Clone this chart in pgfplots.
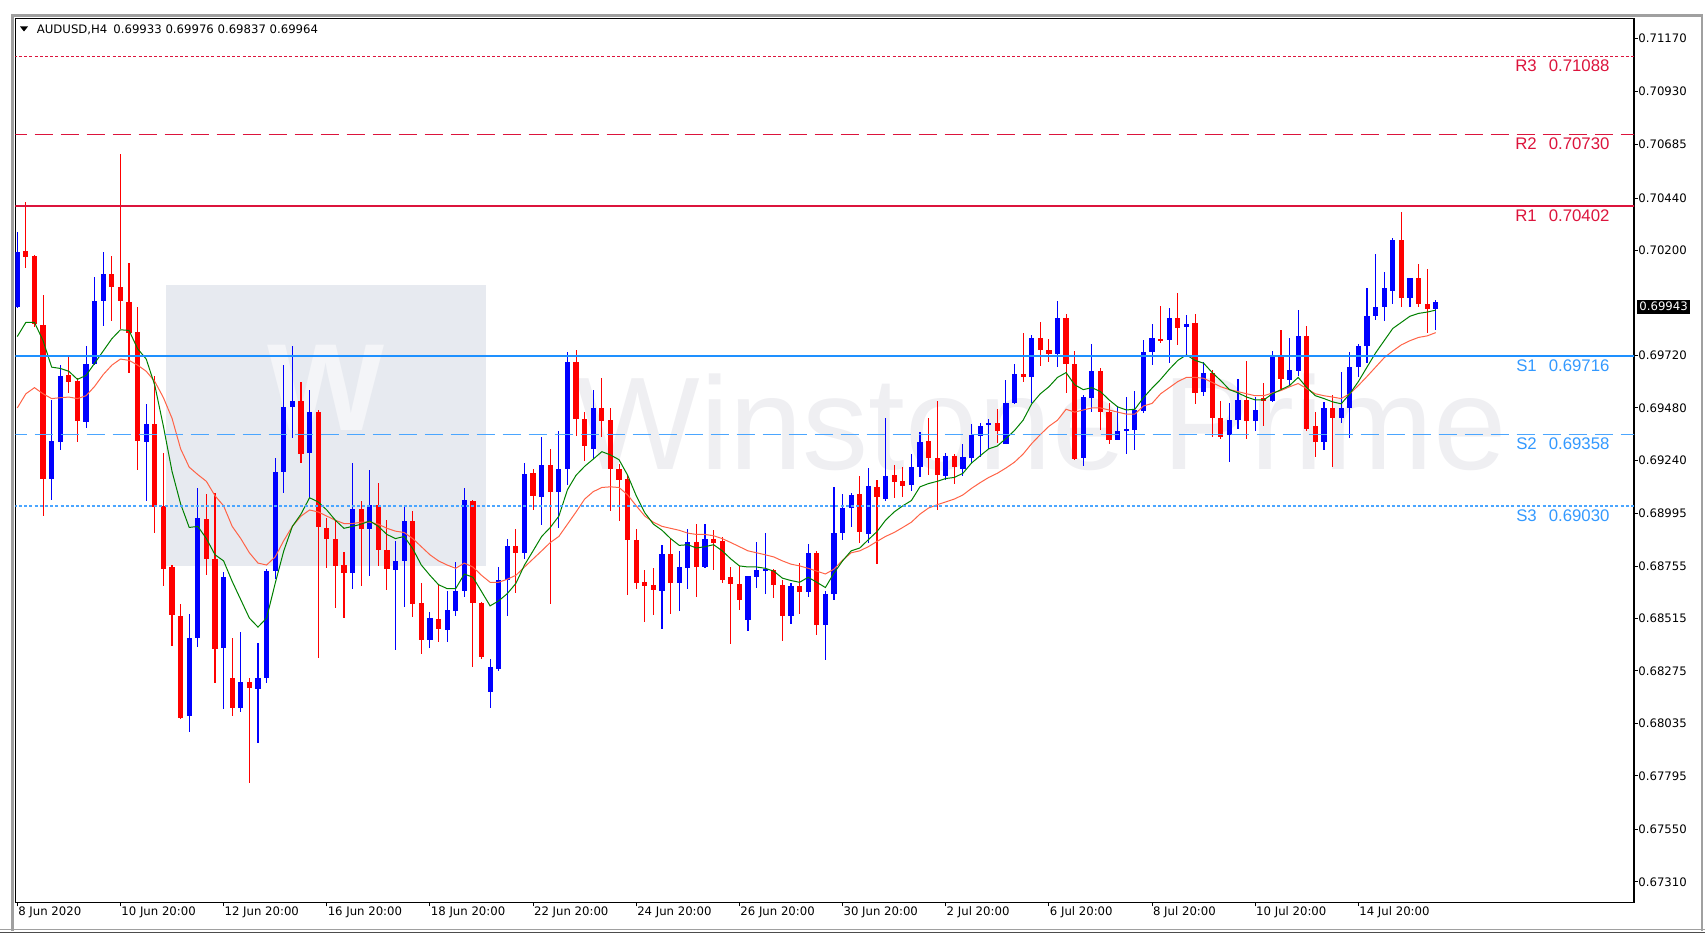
\documentclass[border=0pt]{standalone}
\usepackage{pgfplots}
\pgfplotsset{compat=1.18}
\usepackage{pgfplotstable}
\usepackage{fontspec}
\setmainfont{DejaVu Sans}
\newfontfamily\arialfont{Liberation Sans}
\newcommand\mt{\fontsize{5.85pt}{7pt}\selectfont}
\newcommand\lvl{\arialfont\fontsize{8.4pt}{10pt}\selectfont}

\definecolor{bull}{RGB}{0,0,255}
\definecolor{bear}{RGB}{255,0,0}
\definecolor{resline}{RGB}{220,20,60}
\definecolor{supline}{RGB}{30,144,255}
\definecolor{suptext}{RGB}{51,153,255}
\definecolor{mafast}{RGB}{0,128,0}
\definecolor{maslow}{RGB}{255,99,71}
\definecolor{winframe}{RGB}{160,160,160}
\definecolor{wmbox}{RGB}{231,234,240}
\definecolor{wmw}{RGB}{244,245,248}
\definecolor{wmtext}{RGB}{239,239,242}

% x = bar index (H4), o h l c
\pgfplotstableread{
x o h l c
0 0.69943 0.70286 0.69935 0.70194
4 0.69156 0.69516 0.69059 0.69329
5 0.69326 0.69675 0.69286 0.69628
8 0.69417 0.69765 0.69387 0.69681
9 0.69681 0.70080 0.69675 0.69970
10 0.69970 0.70192 0.69856 0.70095
15 0.69326 0.69496 0.69055 0.69408
20 0.68069 0.68536 0.67994 0.68429
21 0.68429 0.69111 0.68383 0.68975
24 0.68379 0.68728 0.68103 0.68704
26 0.68106 0.68455 0.68088 0.68224
28 0.68194 0.68405 0.67948 0.68246
29 0.68246 0.68741 0.68222 0.68734
30 0.68734 0.69251 0.68695 0.69186
31 0.69186 0.69675 0.69090 0.69484
32 0.69483 0.69765 0.69344 0.69511
34 0.69273 0.69563 0.69068 0.69460
39 0.68726 0.69227 0.68653 0.69016
41 0.68924 0.69195 0.68713 0.69036
44 0.68741 0.68872 0.68371 0.68782
45 0.68782 0.69025 0.68569 0.68962
48 0.68418 0.68545 0.68381 0.68517
50 0.68465 0.68642 0.68409 0.68554
51 0.68551 0.68773 0.68527 0.68642
52 0.68642 0.69111 0.68616 0.69059
55 0.68181 0.68330 0.68106 0.68293
56 0.68287 0.68751 0.68278 0.68691
57 0.68691 0.68878 0.68526 0.68848
59 0.68816 0.69227 0.68788 0.69180
61 0.69074 0.69348 0.68943 0.69217
63 0.69096 0.69372 0.68928 0.69199
64 0.69199 0.69737 0.69130 0.69688
67 0.69292 0.69563 0.69245 0.69479
75 0.68644 0.68853 0.68467 0.68812
77 0.68681 0.68825 0.68551 0.68751
78 0.68747 0.68924 0.68652 0.68866
80 0.68751 0.68950 0.68747 0.68881
85 0.68508 0.68713 0.68457 0.68709
86 0.68707 0.68866 0.68657 0.68735
87 0.68732 0.68906 0.68629 0.68741
90 0.68526 0.68676 0.68489 0.68663
92 0.68638 0.68857 0.68614 0.68816
94 0.68484 0.68644 0.68327 0.68629
95 0.68629 0.69118 0.68601 0.68906
96 0.68906 0.69087 0.68876 0.69021
97 0.69021 0.69087 0.68932 0.69083
99 0.68900 0.69204 0.68863 0.69120
101 0.69064 0.69432 0.69055 0.69171
104 0.69128 0.69270 0.69100 0.69210
105 0.69210 0.69371 0.69161 0.69324
108 0.69167 0.69273 0.69148 0.69258
110 0.69202 0.69314 0.69171 0.69255
111 0.69251 0.69408 0.69230 0.69357
112 0.69352 0.69413 0.69255 0.69395
113 0.69400 0.69428 0.69292 0.69410
115 0.69316 0.69606 0.69316 0.69501
116 0.69503 0.69679 0.69498 0.69634
118 0.69623 0.69815 0.69501 0.69802
121 0.69725 0.69970 0.69669 0.69893
124 0.69249 0.69540 0.69214 0.69529
125 0.69526 0.69774 0.69460 0.69647
128 0.69335 0.69488 0.69335 0.69376
129 0.69376 0.69529 0.69268 0.69382
130 0.69380 0.69557 0.69288 0.69470
131 0.69464 0.69791 0.69456 0.69737
132 0.69735 0.69862 0.69675 0.69802
134 0.69791 0.69936 0.69684 0.69890
136 0.69849 0.69903 0.69722 0.69862
138 0.69550 0.69690 0.69535 0.69638
141 0.69357 0.69503 0.69232 0.69427
142 0.69427 0.69613 0.69382 0.69516
144 0.69419 0.69529 0.69376 0.69470
146 0.69511 0.69740 0.69507 0.69712
148 0.69610 0.69802 0.69582 0.69653
149 0.69647 0.69927 0.69628 0.69809
152 0.69324 0.69507 0.69286 0.69479
154 0.69432 0.69643 0.69410 0.69479
155 0.69479 0.69737 0.69344 0.69666
156 0.69669 0.69774 0.69623 0.69765
157 0.69763 0.70030 0.69684 0.69903
158 0.69899 0.70183 0.69884 0.69942
159 0.69940 0.70104 0.69880 0.70026
160 0.70015 0.70259 0.69955 0.70248
162 0.69983 0.70075 0.69940 0.70075
165 0.69933 0.69976 0.69837 0.69964
}\bulltab

\pgfplotstableread{
x o h l c
1 0.70198 0.70422 0.70123 0.70170
2 0.70174 0.70183 0.69852 0.69862
3 0.69862 0.69996 0.68984 0.69156
6 0.69628 0.69712 0.69548 0.69600
7 0.69604 0.69619 0.69324 0.69419
11 0.70093 0.70174 0.69880 0.70033
12 0.70033 0.70640 0.69843 0.69970
13 0.69966 0.70144 0.69641 0.69824
14 0.69828 0.69942 0.69195 0.69326
16 0.69408 0.69624 0.68909 0.69027
17 0.69031 0.69275 0.68666 0.68745
18 0.68752 0.68760 0.68392 0.68530
19 0.68530 0.68582 0.68055 0.68063
22 0.68971 0.69087 0.68713 0.68786
23 0.68788 0.69090 0.68222 0.68375
25 0.68246 0.68427 0.68069 0.68106
27 0.68224 0.68244 0.67764 0.68196
33 0.69511 0.69600 0.69230 0.69268
35 0.69460 0.69470 0.68334 0.68932
36 0.68928 0.68975 0.68747 0.68878
37 0.68881 0.68962 0.68564 0.68756
38 0.68760 0.68820 0.68517 0.68726
40 0.69016 0.69055 0.68667 0.68928
42 0.69036 0.69137 0.68756 0.68829
43 0.68831 0.68965 0.68648 0.68741
46 0.68962 0.69008 0.68521 0.68582
47 0.68588 0.68681 0.68355 0.68418
49 0.68517 0.68667 0.68409 0.68467
53 0.69055 0.69060 0.68293 0.68586
54 0.68588 0.68592 0.68330 0.68340
58 0.68848 0.68928 0.68635 0.68816
60 0.69180 0.69199 0.69012 0.69074
62 0.69221 0.69292 0.68582 0.69096
65 0.69688 0.69744 0.69350 0.69427
66 0.69428 0.69460 0.69236 0.69305
68 0.69479 0.69619 0.69348 0.69419
69 0.69423 0.69479 0.69008 0.69199
70 0.69199 0.69223 0.68962 0.69148
71 0.69152 0.69174 0.68623 0.68876
72 0.68876 0.68924 0.68652 0.68681
73 0.68685 0.68741 0.68502 0.68666
74 0.68670 0.68745 0.68530 0.68644
76 0.68812 0.68881 0.68539 0.68681
79 0.68866 0.68950 0.68616 0.68751
81 0.68881 0.68919 0.68737 0.68863
82 0.68872 0.68891 0.68681 0.68694
83 0.68704 0.68751 0.68401 0.68676
84 0.68676 0.68754 0.68554 0.68601
88 0.68737 0.68745 0.68611 0.68670
89 0.68670 0.68694 0.68414 0.68526
91 0.68666 0.68769 0.68536 0.68638
93 0.68816 0.68825 0.68442 0.68484
98 0.69083 0.69167 0.68863 0.68909
100 0.69120 0.69152 0.68765 0.69072
102 0.69171 0.69217 0.69068 0.69143
103 0.69146 0.69208 0.69074 0.69124
106 0.69328 0.69432 0.69171 0.69251
107 0.69251 0.69512 0.69012 0.69174
109 0.69260 0.69268 0.69133 0.69208
114 0.69410 0.69475 0.69320 0.69376
117 0.69634 0.69824 0.69600 0.69623
119 0.69800 0.69871 0.69669 0.69746
120 0.69746 0.69796 0.69690 0.69727
122 0.69893 0.69908 0.69548 0.69681
123 0.69681 0.69740 0.69240 0.69245
126 0.69647 0.69662 0.69382 0.69460
127 0.69460 0.69503 0.69316 0.69335
133 0.69796 0.69946 0.69778 0.69787
135 0.69890 0.70005 0.69768 0.69847
137 0.69867 0.69912 0.69498 0.69550
139 0.69638 0.69656 0.69348 0.69436
140 0.69436 0.69511 0.69339 0.69348
143 0.69516 0.69694 0.69339 0.69419
145 0.69526 0.69595 0.69399 0.69512
147 0.69712 0.69837 0.69567 0.69610
150 0.69809 0.69856 0.69376 0.69385
151 0.69395 0.69460 0.69255 0.69324
153 0.69479 0.69539 0.69208 0.69432
161 0.70248 0.70375 0.69940 0.69983
163 0.70075 0.70138 0.69940 0.69955
164 0.69955 0.70118 0.69824 0.69931
}\beartab

% moving averages
\pgfplotstableread{
x y
0 0.69806
1 0.69871
2 0.69871
3 0.69787
4 0.69666
5 0.69660
6 0.69647
7 0.69610
8 0.69628
9 0.69684
10 0.69740
11 0.69796
12 0.69837
13 0.69834
14 0.69750
15 0.69703
16 0.69582
17 0.69395
18 0.69189
19 0.69040
20 0.68932
21 0.68937
22 0.68881
23 0.68807
24 0.68779
25 0.68685
26 0.68601
27 0.68517
28 0.68476
29 0.68517
30 0.68676
31 0.68825
32 0.68937
33 0.68993
34 0.69068
35 0.69049
36 0.69012
37 0.68965
38 0.68928
39 0.68937
40 0.68947
41 0.68962
42 0.68937
43 0.68900
44 0.68881
45 0.68891
46 0.68835
47 0.68760
48 0.68713
49 0.68670
50 0.68652
51 0.68652
52 0.68719
53 0.68704
54 0.68639
55 0.68573
56 0.68596
57 0.68629
58 0.68676
59 0.68760
60 0.68825
61 0.68891
62 0.68932
63 0.68984
64 0.69105
65 0.69171
66 0.69212
67 0.69245
68 0.69279
69 0.69264
70 0.69242
71 0.69171
72 0.69077
73 0.68999
74 0.68947
75 0.68919
76 0.68881
77 0.68850
78 0.68853
79 0.68838
80 0.68844
81 0.68853
82 0.68825
83 0.68788
84 0.68756
85 0.68751
86 0.68751
87 0.68745
88 0.68732
89 0.68700
90 0.68689
91 0.68681
92 0.68704
93 0.68681
94 0.68657
95 0.68723
96 0.68779
97 0.68825
98 0.68838
99 0.68876
100 0.68913
101 0.68965
102 0.69003
103 0.69031
104 0.69055
105 0.69118
106 0.69133
107 0.69143
108 0.69156
109 0.69161
110 0.69180
111 0.69227
112 0.69260
113 0.69292
114 0.69305
115 0.69339
116 0.69376
117 0.69423
118 0.69498
119 0.69544
120 0.69576
121 0.69619
122 0.69641
123 0.69585
124 0.69563
125 0.69572
126 0.69554
127 0.69516
128 0.69484
129 0.69470
130 0.69473
131 0.69526
132 0.69570
133 0.69610
134 0.69656
135 0.69697
136 0.69722
137 0.69697
138 0.69684
139 0.69641
140 0.69604
141 0.69563
142 0.69548
143 0.69529
144 0.69516
145 0.69516
146 0.69544
147 0.69563
148 0.69582
149 0.69619
150 0.69572
151 0.69535
152 0.69522
153 0.69507
154 0.69498
155 0.69544
156 0.69600
157 0.69666
158 0.69731
159 0.69787
160 0.69843
161 0.69871
162 0.69899
163 0.69912
164 0.69918
165 0.69927
}\fastma

\pgfplotstableread{
x y
0 0.69479
1 0.69544
2 0.69572
3 0.69544
4 0.69522
5 0.69526
6 0.69529
7 0.69522
8 0.69535
9 0.69578
10 0.69632
11 0.69675
12 0.69703
13 0.69697
14 0.69675
15 0.69647
16 0.69600
17 0.69526
18 0.69432
19 0.69292
20 0.69208
21 0.69174
22 0.69143
23 0.69077
24 0.69031
25 0.68937
26 0.68881
27 0.68816
28 0.68769
29 0.68760
30 0.68797
31 0.68872
32 0.68937
33 0.68984
34 0.69012
35 0.69003
36 0.68984
37 0.68965
38 0.68950
39 0.68950
40 0.68956
41 0.68956
42 0.68947
43 0.68928
44 0.68915
45 0.68909
46 0.68881
47 0.68844
48 0.68807
49 0.68779
50 0.68760
51 0.68745
52 0.68769
53 0.68751
54 0.68713
55 0.68681
56 0.68681
57 0.68695
58 0.68713
59 0.68751
60 0.68788
61 0.68825
62 0.68863
63 0.68891
64 0.68947
65 0.69003
66 0.69062
67 0.69096
68 0.69115
69 0.69118
70 0.69115
71 0.69081
72 0.69031
73 0.68984
74 0.68956
75 0.68937
76 0.68928
77 0.68919
78 0.68906
79 0.68900
80 0.68900
81 0.68894
82 0.68881
83 0.68863
84 0.68844
85 0.68825
86 0.68816
87 0.68807
88 0.68797
89 0.68779
90 0.68764
91 0.68756
92 0.68745
93 0.68732
94 0.68719
95 0.68741
96 0.68782
97 0.68816
98 0.68825
99 0.68844
100 0.68868
101 0.68891
102 0.68909
103 0.68932
104 0.68956
105 0.68993
106 0.69021
107 0.69036
108 0.69049
109 0.69062
110 0.69081
111 0.69111
112 0.69137
113 0.69161
114 0.69180
115 0.69204
116 0.69231
117 0.69268
118 0.69316
119 0.69357
120 0.69395
121 0.69423
122 0.69473
123 0.69460
124 0.69470
125 0.69479
126 0.69479
127 0.69470
128 0.69460
129 0.69451
130 0.69451
131 0.69488
132 0.69500
133 0.69544
134 0.69572
135 0.69600
136 0.69619
137 0.69619
138 0.69615
139 0.69596
140 0.69576
141 0.69563
142 0.69554
143 0.69544
144 0.69535
145 0.69535
146 0.69548
147 0.69559
148 0.69576
149 0.69591
150 0.69567
151 0.69544
152 0.69535
153 0.69529
154 0.69522
155 0.69544
156 0.69582
157 0.69623
158 0.69666
159 0.69709
160 0.69740
161 0.69768
162 0.69787
163 0.69802
164 0.69809
165 0.69824
}\slowma

\begin{document}
\begin{tikzpicture}
\useasboundingbox (0,0) rectangle (852.5pt,471pt);

% watermark (pixel coordinates, y down)
\begin{scope}[x=0.5pt,y=-0.5pt,shift={(0pt,471pt)}]
  \fill[wmbox] (166,285) rectangle (486,566);
  \node[text=wmw, font=\arialfont\bfseries\fontsize{62pt}{62pt}\selectfont, inner sep=0pt] at (326,388) {W};
  \node[text=wmtext, font=\arialfont\fontsize{66pt}{66pt}\selectfont, anchor=base west, inner sep=0pt] at (575,470) {Winstone Prime};
\end{scope}

\begin{axis}[
  at={(7.65pt,19.85pt)}, anchor=south west,
  scale only axis, width=809.35pt, height=442pt,
  xmin=-0.23, xmax=188.06, ymin=0.67216, ymax=0.71263,
  axis line style={black, line width=0.6pt},
  tick align=outside, major tick length=2pt,
  tick style={black, line width=0.5pt},
  xtick pos=bottom, ytick pos=right,
  xtick={0,12,24,36,48,60,72,84,96,108,120,132,144,156},
  xticklabels={8 Jun 2020,10 Jun 20:00,12 Jun 20:00,16 Jun 20:00,18 Jun 20:00,22 Jun 20:00,24 Jun 20:00,26 Jun 20:00,30 Jun 20:00,2 Jul 20:00,6 Jul 20:00,8 Jul 20:00,10 Jul 20:00,14 Jul 20:00},
  xticklabel style={font=\mt, anchor=north west, inner sep=0pt, xshift=0.3pt},
  ytick={0.67310,0.67550,0.67795,0.68035,0.68275,0.68515,0.68755,0.68995,0.69240,0.69480,0.69720,0.70200,0.70440,0.70685,0.70930,0.71170},
  yticklabels={0.67310,0.67550,0.67795,0.68035,0.68275,0.68515,0.68755,0.68995,0.69240,0.69480,0.69720,0.70200,0.70440,0.70685,0.70930,0.71170},
  yticklabel pos=right,
  yticklabel style={font=\mt, anchor=west, inner sep=0pt},
  clip mode=individual,
]
% wicks
\addplot[draw=none, mark=none, forget plot, error bars/.cd, y dir=both, y explicit, error mark=none,
  error bar style={draw=bull, line width=0.55pt, solid}]
  table[x=x, y expr={(\thisrow{h}+\thisrow{l})/2}, y error expr={(\thisrow{h}-\thisrow{l})/2}] {\bulltab};
\addplot[draw=none, mark=none, forget plot, error bars/.cd, y dir=both, y explicit, error mark=none,
  error bar style={draw=bear, line width=0.55pt, solid}]
  table[x=x, y expr={(\thisrow{h}+\thisrow{l})/2}, y error expr={(\thisrow{h}-\thisrow{l})/2}] {\beartab};
% bodies
\addplot[draw=none, mark=none, forget plot, error bars/.cd, y dir=both, y explicit, error mark=none,
  error bar style={draw=bull, line width=2.6pt, solid}]
  table[x=x, y expr={(\thisrow{o}+\thisrow{c})/2}, y error expr={max(abs(\thisrow{c}-\thisrow{o})/2,0.000025)}] {\bulltab};
\addplot[draw=none, mark=none, forget plot, error bars/.cd, y dir=both, y explicit, error mark=none,
  error bar style={draw=bear, line width=2.6pt, solid}]
  table[x=x, y expr={(\thisrow{o}+\thisrow{c})/2}, y error expr={max(abs(\thisrow{c}-\thisrow{o})/2,0.000025)}] {\beartab};

% moving averages
\addplot[maslow, line width=0.5pt, mark=none] table[x=x, y=y] {\slowma};
\addplot[mafast, line width=0.5pt, mark=none] table[x=x, y=y] {\fastma};

% pivot levels
\addplot[resline, line width=0.55pt, dash pattern=on 1.5pt off 1.1pt] coordinates {(-1,0.71088) (189,0.71088)};
\addplot[resline, line width=0.55pt, dash pattern=on 9pt off 4pt] coordinates {(-1,0.70730) (189,0.70730)};
\addplot[resline, line width=1pt] coordinates {(-1,0.70402) (189,0.70402)};
\addplot[supline, line width=1pt] coordinates {(-1,0.69716) (189,0.69716)};
\addplot[supline!80!white, line width=0.8pt, dash pattern=on 9pt off 4pt] coordinates {(-1,0.69358) (189,0.69358)};
\addplot[supline!80!white, line width=0.6pt, dash pattern=on 1.5pt off 1.1pt] coordinates {(-1,0.69030) (189,0.69030)};

\node[text=resline, font=\lvl, anchor=east, inner sep=0pt, yshift=-4.75pt] at (axis cs:185.26,0.71088) {R3\hspace{6pt}0.71088};
\node[text=resline, font=\lvl, anchor=east, inner sep=0pt, yshift=-4.75pt] at (axis cs:185.26,0.70730) {R2\hspace{6pt}0.70730};
\node[text=resline, font=\lvl, anchor=east, inner sep=0pt, yshift=-4.75pt] at (axis cs:185.26,0.70402) {R1\hspace{6pt}0.70402};
\node[text=suptext, font=\lvl, anchor=east, inner sep=0pt, yshift=-4.75pt] at (axis cs:185.26,0.69716) {S1\hspace{6pt}0.69716};
\node[text=suptext, font=\lvl, anchor=east, inner sep=0pt, yshift=-4.75pt] at (axis cs:185.26,0.69358) {S2\hspace{6pt}0.69358};
\node[text=suptext, font=\lvl, anchor=east, inner sep=0pt, yshift=-4.75pt] at (axis cs:185.26,0.69030) {S3\hspace{6pt}0.69030};

% current price tag
\node[fill=black, text=white, font=\mt, anchor=west, inner xsep=1.2pt, inner ysep=1.3pt, xshift=1.3pt] at (axis cs:188.06,0.69943) {0.69943};
\end{axis}

% window frame and title (pixel coordinates)
\begin{scope}[x=0.5pt,y=-0.5pt,shift={(0pt,471pt)}]
  \draw[winframe, line width=1.2pt] (12.5,931) -- (12.5,15.5) -- (1702,15.5) -- (1702,931);
  \draw[winframe, line width=0.7pt] (0,929.5) -- (1705,929.5);
  \draw[black!70, line width=0.7pt] (0,932.5) -- (1705,932.5);
  \fill[black] (20,26.5) -- (28,26.5) -- (24,31.5) -- cycle;
  \node[font=\mt, anchor=west, inner sep=0pt] at (36.5,29.5) {AUDUSD,H4\hspace{3pt}0.69933 0.69976 0.69837 0.69964};
\end{scope}
\end{tikzpicture}
\end{document}
